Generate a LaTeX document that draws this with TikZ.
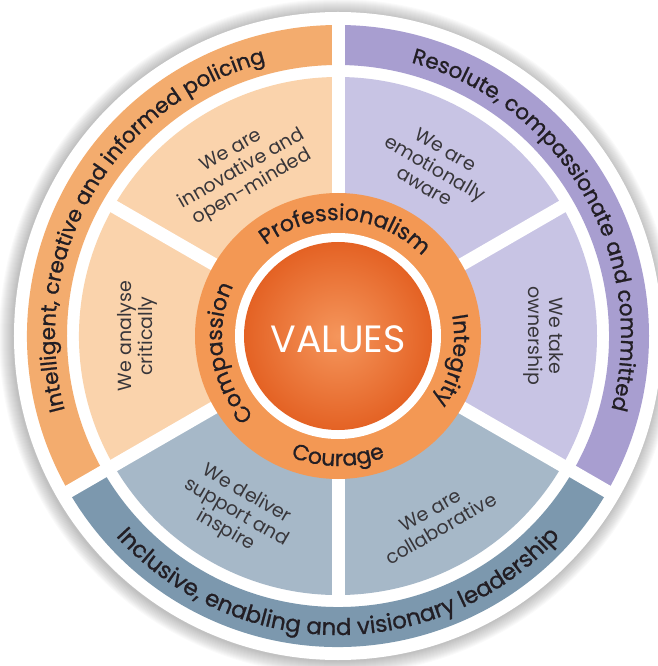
\documentclass[tikz,border=0pt]{standalone}
\usepackage{fontspec}
\setmainfont{Poppins}
\newfontfamily\popmed{Poppins}[FakeBold=0.9]
\usetikzlibrary{decorations.text}
\definecolor{bandO}{RGB}{243,172,110}
\definecolor{wedgeO}{RGB}{250,211,172}
\definecolor{bandP}{RGB}{168,158,208}
\definecolor{wedgeP}{RGB}{200,196,228}
\definecolor{bandB}{RGB}{124,152,174}
\definecolor{wedgeB}{RGB}{166,184,200}
\definecolor{ringO}{RGB}{243,152,84}
\definecolor{coreIn}{RGB}{245,150,92}
\definecolor{coreOut}{RGB}{228,98,36}
\definecolor{txt}{RGB}{34,30,36}
\definecolor{wtxt}{RGB}{56,54,58}
\newcommand\mysector[5]{\fill[#1] (#2:#4) arc[start angle=#2,end angle=#3,radius=#4] -- (#3:#5) arc[start angle=#3,end angle=#2,radius=#5] -- cycle;}
\newcommand\bandfont{\popmed\fontsize{21.5}{21.5}\selectfont\color{txt}}
\newcommand\bandfontb{\popmed\fontsize{23}{23}\selectfont\color{txt}}
\newcommand\ringfont{\popmed\fontsize{22}{22}\selectfont\color{txt}}
\tikzset{
  wtext/.style={align=center, font=\fontsize{19}{21}\selectfont, text=wtxt, inner sep=0pt},
  gapline/.style={white, line width=13pt},
}
\begin{document}
\begin{tikzpicture}[x=1pt,y=1pt]
\useasboundingbox (-338,-330) rectangle (319,336);
% soft shadow
\foreach \i in {1,...,14} \fill[black,opacity=0.02] (-1,-1) circle ({324+\i});
\fill[white] (0,0) circle (324);
% outer bands
\mysector{bandO}{90}{210}{271}{311}
\mysector{bandP}{-30}{90}{271}{311}
\mysector{bandB}{210}{330}{271}{311}
% wedges
\mysector{wedgeO}{90}{210}{140}{259}
\mysector{wedgeP}{-30}{90}{140}{259}
\mysector{wedgeB}{210}{330}{140}{259}
% gaps
\foreach \a in {30,150,270} \draw[gapline] (0,0) -- (\a:264);
\foreach \a in {90,210,330} \draw[gapline] (0,0) -- (\a:318);
% inner ring and core
\fill[ringO] (0,0) circle (143);
\fill[white] (0,0) circle (103);
\shade[inner color=coreIn, outer color=coreOut] (0,0) circle (94);
\node[text=white, font=\fontsize{38}{38}\selectfont, inner sep=0pt] (values) at (0,-3) {VALUES};
% band texts
\path[decorate, decoration={text along path, text align=center, text={|\bandfont|Intelligent, creative and informed policing}}] (225:283) arc[start angle=225, end angle=75, radius=283];
\path[decorate, decoration={text along path, text align=center, text={|\bandfont|Resolute, compassionate and committed}}] (105:283) arc[start angle=105, end angle=-45, radius=283];
\path[decorate, decoration={text along path, text align=center, text={|\bandfontb|Inclusive, enabling and visionary leadership}}] (195:299) arc[start angle=195, end angle=345, radius=299];
% ring texts
\path[decorate, decoration={text along path, text align=center, text={|\ringfont|Professionalism}}] (176:116) arc[start angle=176, end angle=-4, radius=116];
\path[decorate, decoration={text along path, text align=center, text={|\ringfont|Integrity}}] (48:116) arc[start angle=48, end angle=-72, radius=116];
\path[decorate, decoration={text along path, text align=center, text={|\ringfont|Compassion}}] (249:116) arc[start angle=249, end angle=129, radius=116];
\path[decorate, decoration={text along path, text align=center, text={|\ringfont|Courage}}] (220:130) arc[start angle=220, end angle=320, radius=130];
% wedge texts
\node[wtext, rotate=30] (w1) at (120:192) {We are\\innovative and\\open-minded};
\node[wtext, rotate=90] (w2) at (180:201) {We analyse\\critically};
\node[wtext, rotate=-30] (w3) at (240:204) {We deliver\\support and\\inspire};
\node[wtext, rotate=30] (w4) at (298:208) {We are\\collaborative};
\node[wtext, rotate=-90] (w5) at (0:206) {We take\\ownership};
\node[wtext, rotate=-30] (w6) at (60:194) {We are\\emotionally\\aware};
\end{tikzpicture}
\end{document}
